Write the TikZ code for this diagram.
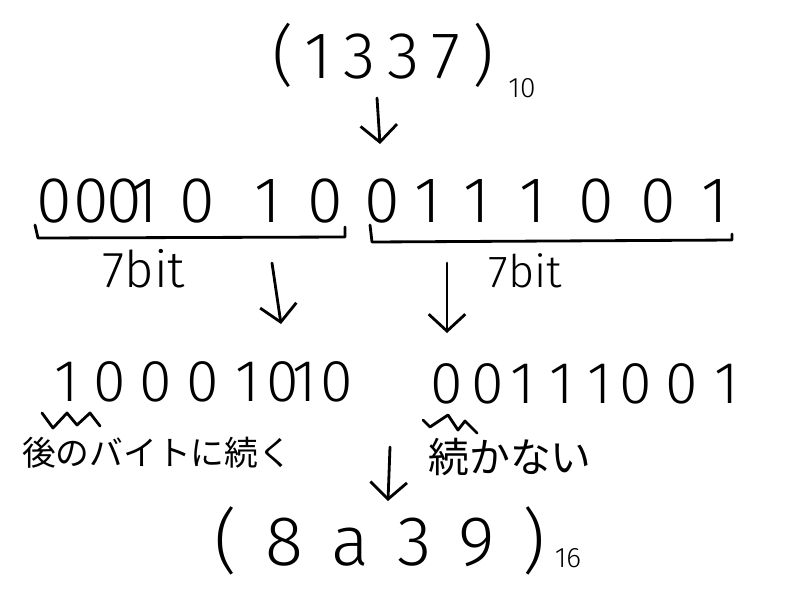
\documentclass[tikz,border=0pt]{standalone}
\usepackage{fontspec}
\usepackage{tikz}
\usetikzlibrary{positioning,arrows.meta}
\newfontfamily\handfont{Fira Sans Light}
\newfontfamily\jpfont{Noto Sans CJK JP}
\tikzset{hand/.style={inner sep=0pt, anchor=base, font=\handfont\fontsize{#1}{#1}\selectfont}}
\tikzset{jp/.style={inner sep=0pt, font=\jpfont\fontsize{#1}{#1}\selectfont}}
\tikzstyle{stroke}=[line width=2pt, line cap=round, line join=round]
\tikzstyle{down}=[stroke, -{Straight Barb[length=12pt,width=26pt]}]

\begin{document}
\begin{tikzpicture}[x=0.025cm, y=-0.025cm]
            \useasboundingbox (0,0) rectangle (800,600);
            % decimal value
            \node (dec)[hand=47] at (383,78) {\addfontfeatures{LetterSpace=18}(1337)};
            \node (dec10)[hand=20] at (522,97) {10};
            \coordinate (a1s) at (377,98);
            \coordinate (a1e) at (380,144);
            \draw[down] (a1s) -- (a1e);
            % 14 bits, split into two groups of 7
            \foreach \x/\d [count=\i] in {54/0,91/0,124/0,145/1,197/0,268/1,325/0}
                \node (hi\i)[hand=46] at (\x,222) {\d};
            \foreach \x/\d [count=\i] in {382/0,428/1,477/1,533/1,596/0,658/0,715/1}
                \node (lo\i)[hand=46] at (\x,222) {\d};
            \draw[stroke] (35,225) -- (38,238) -- (345,237) -- (345,227);
            \draw[stroke] (370,225) -- (372,242) -- (732,240) -- (732,234);
            \node (hibits)[hand=36] at (144,287) {7bit};
            \node (lobits)[hand=32] at (525,287) {7bit};
            \coordinate (a2s) at (272,263);
            \coordinate (a2e) at (281,324);
            \coordinate (a3s) at (447,263);
            \coordinate (a3e) at (447,333);
            \draw[down] (a2s) -- (a2e);
            \draw[down] (a3s) -- (a3e);
            % encoded bytes
            \foreach \x/\d [count=\i] in {67/1,110/0,156/0,203/0,248/1,283/0,305/1,337/0}
                \node (bytea\i)[hand=42] at (\x,401) {\d};
            \foreach \x/\d [count=\i] in {447/0,488/0,523/1,562/1,600/1,636/0,682/0,727/1}
                \node (byteb\i)[hand=42] at (\x,403) {\d};
            \draw[stroke] (42,413) -- (53,428) -- (67,413) -- (77,425) -- (90,413) -- (100,426);
            \draw[stroke] (423,420) -- (430,427) -- (448,415) -- (458,430) -- (465,421) -- (477,433);
            \node (cont)[jp=24] at (157,453) {後のバイトに続く};
            \node (stop)[jp=29] at (510,457) {続かない};
            \coordinate (a4s) at (390,447);
            \coordinate (a4e) at (388,501);
            \draw[down] (a4s) -- (a4e);
            % hexadecimal value
            \node (hex)[hand=50] at (380,565) {\addfontfeatures{LetterSpace=40}(8a39)};
            \node (hex16)[hand=20] at (568,567) {16};
\end{tikzpicture}
\end{document}
